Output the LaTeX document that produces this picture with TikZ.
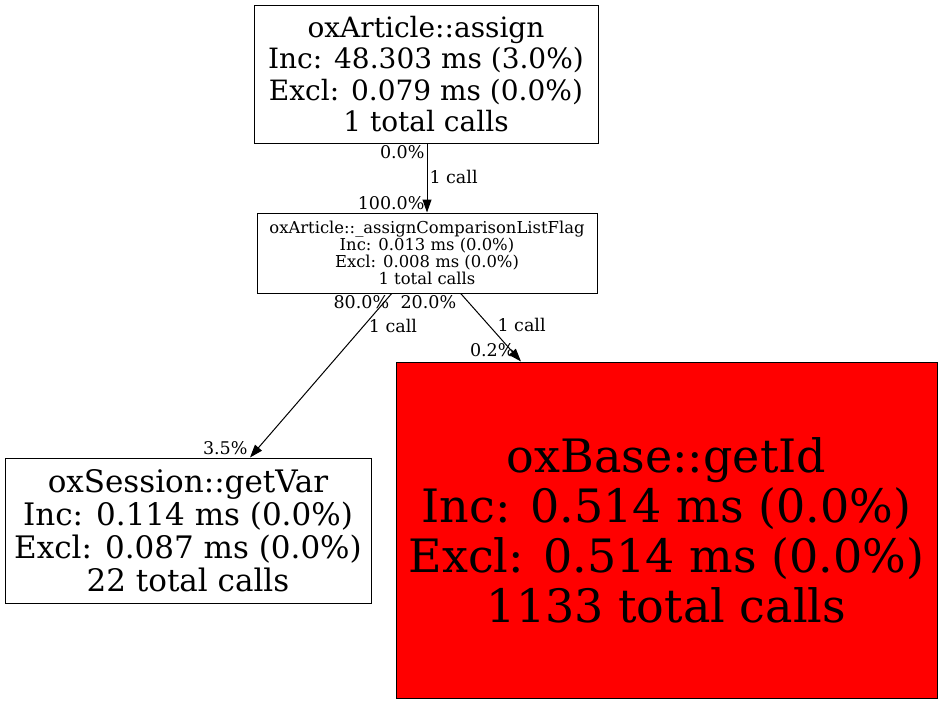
\documentclass[tikz,border=0pt]{standalone}
\usepackage{fontspec}
\setmainfont{DejaVu Serif}
\usetikzlibrary{arrows.meta}

\begin{document}
\begin{tikzpicture}[x=1pt,y=-1pt,
  fn/.style={draw,line width=1pt,inner sep=0pt,align=center},
  pct/.style={font=\fontsize{17.5}{20}\selectfont,inner sep=2pt}]
\useasboundingbox (0,0) rectangle (943,704);
\node[fn,minimum width=344pt,minimum height=138pt,font=\fontsize{28}{31.5}\selectfont] (a0) at (426,74) {oxArticle::assign\\Inc: 48.303 ms (3.0\%)\\Excl: 0.079 ms (0.0\%)\\1 total calls};
\node[fn,minimum width=340pt,minimum height=80pt,font=\fontsize{16.4}{17.2}\selectfont] (a1) at (427,253) {oxArticle::\_assignComparisonListFlag\\Inc: 0.013 ms (0.0\%)\\Excl: 0.008 ms (0.0\%)\\1 total calls};
\node[fn,minimum width=366pt,minimum height=145pt,font=\fontsize{31}{33}\selectfont] (b0) at (188,530.5) {oxSession::getVar\\Inc: 0.114 ms (0.0\%)\\Excl: 0.087 ms (0.0\%)\\22 total calls};
\node[fn,fill=red,minimum width=541pt,minimum height=336pt,font=\fontsize{46}{50}\selectfont] (b1) at (666.5,530) {oxBase::getId\\Inc: 0.514 ms (0.0\%)\\Excl: 0.514 ms (0.0\%)\\1133 total calls};
\path[-{Triangle[length=13pt,width=9pt]},line width=1pt]
([xshift=1pt]a0.south) edge node[pct,at start,anchor=north east] {0.0\%} node[pct,right,pos=0.49] {1 call} node[pct,at end,anchor=south east] {100.0\%} (a1.north)
([xshift=-35.3pt]a1.south) edge node[pct,at start,anchor=north east] {80.0\%} node[pct,right,pos=0.2,xshift=3pt] {1 call} node[pct,at end,anchor=south east] {3.5\%} ([xshift=62pt]b0.north)
([xshift=33.7pt]a1.south) edge node[pct,at start,anchor=north east,xshift=-2pt] {20.0\%} node[pct,right,pos=0.47,xshift=6pt] {1 call} node[pct,at end,anchor=south east,xshift=-4pt,yshift=2pt] {0.2\%} ([xshift=-145.5pt]b1.north);
\end{tikzpicture}
\end{document}
